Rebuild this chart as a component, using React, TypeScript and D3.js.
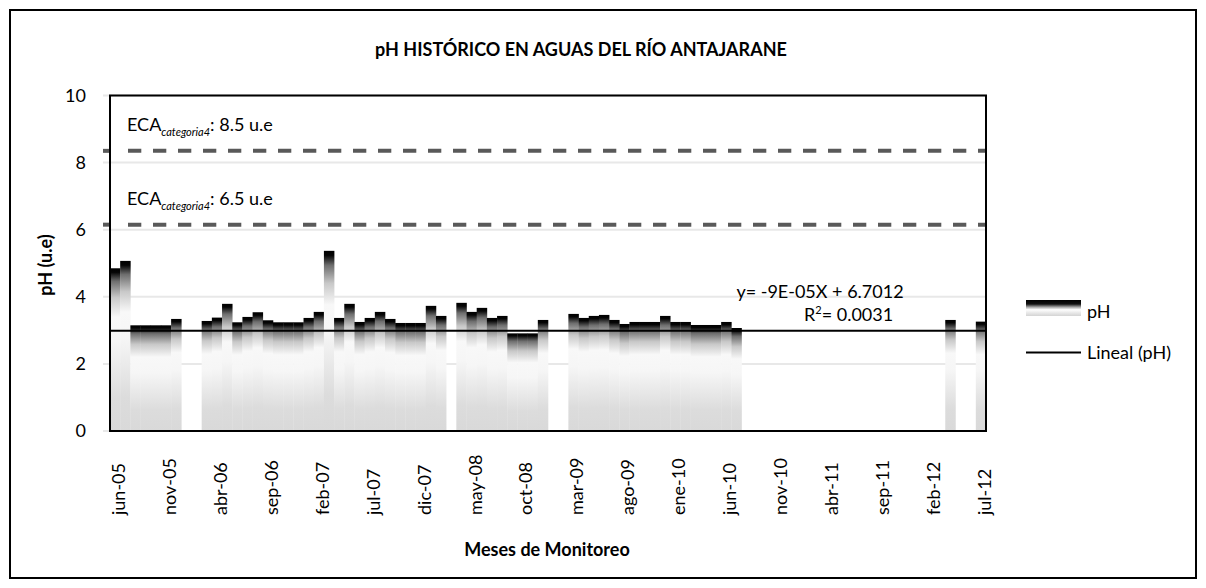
import { useEffect, useRef } from "react";
import * as d3 from "d3";

const WIDTH = 1206;
const HEIGHT = 588;

// categories: monthly, jun-05 .. jul-12
const MONTH_NAMES = ["ene", "feb", "mar", "abr", "may", "jun", "jul", "ago", "sep", "oct", "nov", "dic"];
const START_YEAR = 5;
const START_MONTH = 5;
const MONTH_COUNT = 86;

const categories = d3.range(MONTH_COUNT).map((i) => {
  const m = START_MONTH + i;
  const yy = START_YEAR + Math.floor(m / 12);
  return `${MONTH_NAMES[m % 12]}-${String(yy).padStart(2, "0")}`;
});

// pH per month (null = no sampling)
const phValues: (number | null)[] = [
  4.85, 5.07, 3.15, 3.15, 3.15, 3.15, 3.34, null, null, 3.28,
  3.38, 3.79, 3.24, 3.4, 3.54, 3.3, 3.24, 3.24, 3.24, 3.37,
  3.55, 5.37, 3.37, 3.79, 3.25, 3.37, 3.55, 3.34, 3.22, 3.22,
  3.22, 3.73, 3.43, null, 3.82, 3.55, 3.67, 3.37, 3.43, 2.91,
  2.91, 2.91, 3.31, null, null, 3.49, 3.37, 3.43, 3.46, 3.31,
  3.19, 3.25, 3.25, 3.25, 3.43, 3.25, 3.25, 3.16, 3.16, 3.16,
  3.25, 3.07, null, null, null, null, null, null, null, null,
  null, null, null, null, null, null, null, null, null, null,
  null, null, 3.31, null, null, 3.26,
];

const tickLabels = [
  "jun-05", "nov-05", "abr-06", "sep-06", "feb-07", "jul-07", "dic-07", "may-08", "oct-08",
  "mar-09", "ago-09", "ene-10", "jun-10", "nov-10", "abr-11", "sep-11", "feb-12", "jul-12",
];

const ecaLevels = [8.35, 6.15];
const ecaLabels = [": 8.5 u.e", ": 6.5 u.e"];

// trend line as drawn (start, end)
const trendValues = [2.99, 2.99];
const trendEquation = "y= -9E-05X + 6.7012";
const trendR2 = "= 0.0031";

const FONT = "Lato, 'Open Sans', sans-serif";

export default function App() {
  const svgRef = useRef<SVGSVGElement>(null);

  useEffect(() => {
    if (!svgRef.current) return;
    const svg = d3.select(svgRef.current);
    svg.selectAll("*").remove();

    const plot = { left: 110, right: 986, top: 95.5, bottom: 431 };

    const x = d3.scaleBand<string>().domain(categories).range([plot.left, plot.right]).padding(0);
    const y = d3.scaleLinear().domain([0, 10]).range([plot.bottom, plot.top]);

    const defs = svg.append("defs");
    const barGrad = defs
      .append("linearGradient")
      .attr("id", "barGrad")
      .attr("x1", 0).attr("y1", 0).attr("x2", 0).attr("y2", 1);
    [
      [0, "#000"], [0.025, "#050505"], [0.08, "#6e6e6e"], [0.18, "#c8c8c8"],
      [0.3, "#f8f8f8"], [0.45, "#f6f6f6"], [0.8, "#dcdcdc"], [1, "#d9d9d9"],
    ].forEach(([o, c]) => barGrad.append("stop").attr("offset", o as number).attr("stop-color", c as string));

    const legGrad = defs
      .append("linearGradient")
      .attr("id", "legGrad")
      .attr("x1", 0).attr("y1", 0).attr("x2", 0).attr("y2", 1);
    [
      [0, "#000"], [0.25, "#111"], [0.45, "#aaa"], [0.6, "#fff"], [0.75, "#eee"], [1, "#d4d4d4"],
    ].forEach(([o, c]) => legGrad.append("stop").attr("offset", o as number).attr("stop-color", c as string));

    // outer frame
    svg.append("rect")
      .attr("x", 10).attr("y", 10).attr("width", 1186).attr("height", 568)
      .attr("fill", "#fff").attr("stroke", "#000").attr("stroke-width", 2);

    // gridlines
    svg.append("g")
      .selectAll("line")
      .data(y.ticks(5))
      .enter()
      .append("line")
      .attr("x1", plot.left - 7).attr("x2", plot.right)
      .attr("y1", (d) => y(d)).attr("y2", (d) => y(d))
      .attr("stroke", "#e8e8e8").attr("stroke-width", 2);

    // y tick labels
    svg.append("g")
      .selectAll("text")
      .data(y.ticks(5))
      .enter()
      .append("text")
      .attr("x", 86)
      .attr("y", (d) => y(d))
      .attr("dy", "0.36em")
      .attr("text-anchor", "end")
      .style("font-family", FONT).style("font-size", "18px").style("fill", "#000")
      .text((d) => d);

    // bars
    const data = categories
      .map((c, i) => ({ c, v: phValues[i] }))
      .filter((d) => d.v != null) as { c: string; v: number }[];
    svg.append("g")
      .selectAll("rect")
      .data(data)
      .enter()
      .append("rect")
      .attr("x", (d) => x(d.c)!)
      .attr("y", (d) => y(d.v))
      .attr("width", x.bandwidth() + 0.3)
      .attr("height", (d) => y(0) - y(d.v))
      .attr("fill", "url(#barGrad)");

    // trend line
    svg.append("line")
      .attr("x1", plot.left).attr("x2", plot.right)
      .attr("y1", y(trendValues[0])).attr("y2", y(trendValues[1]))
      .attr("stroke", "#000").attr("stroke-width", 2);

    // ECA limit lines
    ecaLevels.forEach((lv, i) => {
      svg.append("line")
        .attr("x1", plot.left - 7).attr("x2", plot.left)
        .attr("y1", y(lv)).attr("y2", y(lv))
        .attr("stroke", "#595959").attr("stroke-width", 4);
      svg.append("line")
        .attr("x1", plot.left + 18).attr("x2", plot.right)
        .attr("y1", y(lv)).attr("y2", y(lv))
        .attr("stroke", "#595959").attr("stroke-width", 4)
        .attr("stroke-dasharray", "13.3 11.7");

      const t = svg.append("text")
        .attr("x", 127)
        .attr("y", y(lv) - 20)
        .style("font-family", FONT).style("font-size", "18px").style("fill", "#000");
      t.append("tspan").text("ECA");
      t.append("tspan").attr("dy", 5).style("font-size", "11px").style("font-style", "italic").text("categoria4");
      t.append("tspan").attr("dy", -5).text(ecaLabels[i]);
    });

    // plot frame
    svg.append("rect")
      .attr("x", plot.left).attr("y", plot.top)
      .attr("width", plot.right - plot.left).attr("height", plot.bottom - plot.top)
      .attr("fill", "none").attr("stroke", "#000").attr("stroke-width", 2);

    // x tick labels
    svg.append("g")
      .selectAll("text")
      .data(tickLabels)
      .enter()
      .append("text")
      .attr("transform", (d) => `translate(${x(d)! + x.bandwidth() / 2}, 515) rotate(-90)`)
      .attr("dy", "0.55em")
      .attr("text-anchor", "start")
      .style("font-family", FONT).style("font-size", "18px").style("fill", "#000")
      .text((d) => d);

    // trend annotation
    svg.append("text")
      .attr("x", 820).attr("y", 298)
      .attr("text-anchor", "middle")
      .style("font-family", FONT).style("font-size", "18px").style("fill", "#000")
      .text(trendEquation);
    const r2 = svg.append("text")
      .attr("x", 804).attr("y", 321)
      .style("font-family", FONT).style("font-size", "18px").style("fill", "#000");
    r2.append("tspan").text("R");
    r2.append("tspan").attr("dy", -7).style("font-size", "11px").text("2");
    r2.append("tspan").attr("dy", 7).text(trendR2);

    // titles
    svg.append("text")
      .attr("x", 581).attr("y", 56)
      .attr("text-anchor", "middle")
      .style("font-family", FONT).style("font-size", "18px").style("font-weight", "bold")
      .text("pH HISTÓRICO EN AGUAS DEL RÍO ANTAJARANE");
    svg.append("text")
      .attr("transform", "translate(52, 265) rotate(-90)")
      .attr("text-anchor", "middle")
      .style("font-family", FONT).style("font-size", "18px").style("font-weight", "bold")
      .text("pH (u.e)");
    svg.append("text")
      .attr("x", 547).attr("y", 556)
      .attr("text-anchor", "middle")
      .style("font-family", FONT).style("font-size", "18px").style("font-weight", "bold")
      .text("Meses de Monitoreo");

    // legend
    svg.append("rect")
      .attr("x", 1026).attr("y", 300).attr("width", 55).attr("height", 16)
      .attr("fill", "url(#legGrad)");
    svg.append("text")
      .attr("x", 1087).attr("y", 318)
      .style("font-family", FONT).style("font-size", "18px")
      .text("pH");
    svg.append("line")
      .attr("x1", 1026).attr("x2", 1081).attr("y1", 352.5).attr("y2", 352.5)
      .attr("stroke", "#000").attr("stroke-width", 2);
    svg.append("text")
      .attr("x", 1087).attr("y", 358.5)
      .style("font-family", FONT).style("font-size", "18px")
      .text("Lineal (pH)");
  }, []);

  return (
    <svg
      ref={svgRef}
      width={WIDTH}
      height={HEIGHT}
      style={{ position: "absolute", left: 0, top: 0, background: "#fff" }}
    />
  );
}
